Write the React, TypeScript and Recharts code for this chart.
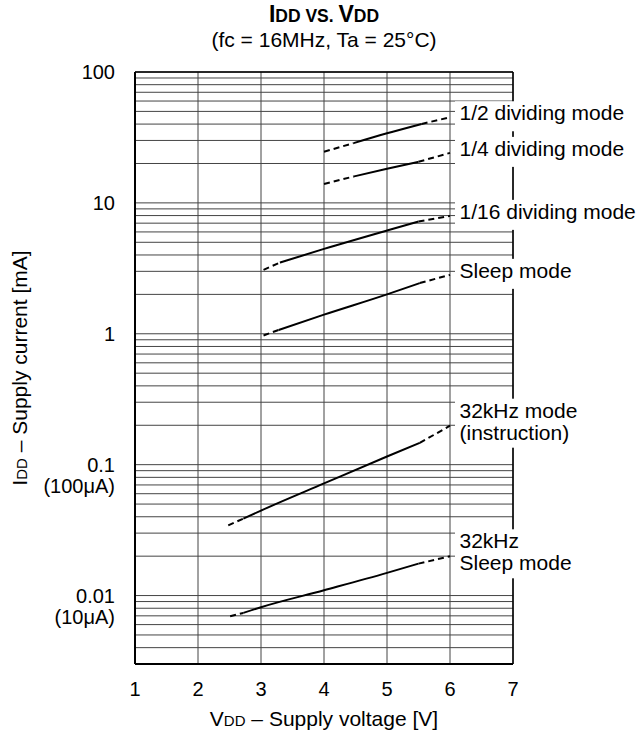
import React from 'react';
import {
  LineChart,
  Line,
  XAxis,
  YAxis,
  CartesianGrid,
  ReferenceDot,
  ReferenceLine,
} from 'recharts';

const FONT = '"Liberation Sans", Arial, Helvetica, sans-serif';

// ---- axes ----
const xTicks = [1, 2, 3, 4, 5, 6, 7];
const yDomain = [0.003, 100];
const yDecades = [0.001, 0.01, 0.1, 1, 10];
const yMultipliers = [1, 2, 3, 4, 5, 6, 7, 8, 9];
const yLabelValues = [0.01, 0.1, 1, 10, 100];
const yLabelTexts = [['0.01', '(10μA)'], ['0.1', '(100μA)'], ['1'], ['10'], ['100']];

// ---- curves: VDD [V] and IDD [mA] ----
const halfV = [4.0, 4.47, 5.0, 5.55, 6.0];
const halfI = [24.6, 28.6, 34.0, 40.1, 45.1];

const quarterV = [4.0, 4.47, 5.0, 5.5, 6.0];
const quarterI = [13.96, 15.9, 18.2, 20.6, 24.1];

const sixteenthV = [3.04, 3.3, 4.0, 5.0, 5.5, 6.0];
const sixteenthI = [3.08, 3.5, 4.45, 6.15, 7.2, 7.96];

const sleepV = [3.04, 3.28, 4.0, 5.0, 5.52, 6.0];
const sleepI = [0.97, 1.07, 1.4, 2.0, 2.44, 2.82];

const k32V = [2.48, 2.72, 3.0, 4.0, 5.0, 5.52, 6.0];
const k32I = [0.0344, 0.0387, 0.0446, 0.0719, 0.1155, 0.1466, 0.1985];

const k32SleepV = [2.51, 2.72, 3.0, 4.0, 5.0, 5.5, 6.0];
const k32SleepI = [0.00695, 0.00737, 0.00815, 0.01098, 0.0149, 0.01754, 0.01995];

const curveLabels = [
  ['1/2 dividing mode'],
  ['1/4 dividing mode'],
  ['1/16 dividing mode'],
  ['Sleep mode'],
  ['32kHz mode', '(instruction)'],
  ['32kHz', 'Sleep mode'],
];

const curveVs = [halfV, quarterV, sixteenthV, sleepV, k32V, k32SleepV];
const curveIs = [halfI, quarterI, sixteenthI, sleepI, k32I, k32SleepI];

// build tick list (decade grid with minor lines)
const yTicks: number[] = [];
yDecades.forEach((d) => {
  yMultipliers.forEach((m) => {
    const v = parseFloat((m * d).toPrecision(6));
    if (v >= yDomain[0] && v <= yDomain[1]) yTicks.push(v);
  });
});
yTicks.push(100);

type Pt = { v: number; i: number };
const curves = curveVs.map((vs, k) => {
  const pts: Pt[] = vs.map((v, j) => ({ v, i: curveIs[k][j] }));
  const n = pts.length;
  return {
    start: pts.slice(0, 2),
    solid: pts.slice(1, n - 1),
    end: pts.slice(n - 2),
    last: pts[n - 1],
    label: curveLabels[k],
  };
});

const XTick = (props: any) => {
  const { x, y, payload } = props;
  return (
    <text x={x} y={y + 32} textAnchor="middle" fontFamily={FONT} fontSize={20} fill="#000">
      {payload.value}
    </text>
  );
};

const YTick = (props: any) => {
  const { x, y, payload } = props;
  const v = payload.value;
  const idx = yLabelValues.findIndex((d) => Math.abs(d - v) / d < 1e-6);
  if (idx < 0) return <g />;
  const lines = yLabelTexts[idx];
  return (
    <text x={x - 20} y={y + 7} textAnchor="end" fontFamily={FONT} fontSize={20} fill="#000">
      {lines.map((l, i) => (
        <tspan key={i} x={x - 20} dy={i === 0 ? 0 : 21}>
          {l}
        </tspan>
      ))}
    </text>
  );
};

const YLabel = (props: any) => {
  const vb = props.viewBox || { x: 0, y: 72, width: 135, height: 592 };
  const cx = vb.x + 27;
  const cy = vb.y + vb.height / 2;
  return (
    <text
      x={cx}
      y={cy}
      transform={`rotate(-90 ${cx} ${cy})`}
      textAnchor="middle"
      fontFamily={FONT}
      fontSize={21}
      fill="#000"
    >
      <tspan>I</tspan>
      <tspan fontSize={15}>DD</tspan>
      <tspan>{' – Supply current [mA]'}</tspan>
    </text>
  );
};

const XLabel = (props: any) => {
  const vb = props.viewBox || { x: 135, y: 664, width: 378, height: 80 };
  const cx = vb.x + vb.width / 2;
  const y = vb.y + 62;
  return (
    <text x={cx} y={y} textAnchor="middle" fontFamily={FONT} fontSize={21} fill="#000">
      <tspan>V</tspan>
      <tspan fontSize={15}>DD</tspan>
      <tspan>{' – Supply voltage [V]'}</tspan>
    </text>
  );
};

const TitleShape = (p: any) => {
  const { cx, cy } = p;
  return (
    <g>
      <text x={cx} y={cy - 50} textAnchor="middle" fontFamily={FONT} fontWeight="bold" fill="#000">
        <tspan fontSize={23}>I</tspan>
        <tspan fontSize={17.5}>{'DD VS. '}</tspan>
        <tspan fontSize={23}>V</tspan>
        <tspan fontSize={17.5}>DD</tspan>
      </text>
      <text x={cx} y={cy - 25} textAnchor="middle" fontFamily={FONT} fontSize={21} fill="#000">
        (fc = 16MHz, Ta = 25°C)
      </text>
    </g>
  );
};

const makeLabelShape = (lines: string[]) => (p: any) => {
  const { cx, cy } = p;
  const two = lines.length > 1;
  const top = two ? cy - 27 : cy - 16;
  const bottom = two ? cy + 22 : cy + 14;
  const x0 = cx + 5;
  return (
    <g>
      <rect x={x0} y={top} width={220} height={bottom - top} fill="#fff" />
      <text fontFamily={FONT} fontSize={21} fill="#000">
        {two ? (
          <>
            <tspan x={x0 + 4.5} y={cy - 8}>
              {lines[0]}
            </tspan>
            <tspan x={x0 + 4.5} y={cy + 14}>
              {lines[1]}
            </tspan>
          </>
        ) : (
          <tspan x={x0 + 4.5} y={cy + 3}>
            {lines[0]}
          </tspan>
        )}
      </text>
    </g>
  );
};

export default function App() {
  return (
    <div style={{ position: 'absolute', left: 0, top: 0, background: '#fff' }}>
      <LineChart width={641} height={744} margin={{ top: 72, right: 128, bottom: 0, left: 0 }}>
        <CartesianGrid stroke="#444" strokeWidth={1} />
        <XAxis
          type="number"
          dataKey="v"
          domain={[1, 7]}
          ticks={xTicks}
          interval={0}
          allowDataOverflow
          tickLine={false}
          tickSize={0}
          tickMargin={0}
          height={80}
          axisLine={{ stroke: '#000', strokeWidth: 2 }}
          tick={<XTick />}
          label={<XLabel />}
        />
        <YAxis
          type="number"
          scale="log"
          domain={yDomain}
          ticks={yTicks}
          interval={0}
          allowDataOverflow
          tickLine={false}
          tickSize={0}
          tickMargin={0}
          width={135}
          axisLine={{ stroke: '#000', strokeWidth: 2 }}
          tick={<YTick />}
          label={<YLabel />}
        />
        <ReferenceLine y={100} stroke="#000" strokeWidth={1.5} ifOverflow="visible" />
        <ReferenceLine x={7} stroke="#000" strokeWidth={1.5} ifOverflow="visible" />
        {curves.map((c, k) => (
          <Line
            key={`s${k}`}
            data={c.start}
            dataKey="i"
            type="linear"
            stroke="#000"
            strokeWidth={2}
            strokeDasharray="6 4"
            dot={false}
            activeDot={false}
            isAnimationActive={false}
          />
        ))}
        {curves.map((c, k) => (
          <Line
            key={`m${k}`}
            data={c.solid}
            dataKey="i"
            type="monotone"
            stroke="#000"
            strokeWidth={2}
            dot={false}
            activeDot={false}
            isAnimationActive={false}
          />
        ))}
        {curves.map((c, k) => (
          <Line
            key={`e${k}`}
            data={c.end}
            dataKey="i"
            type="linear"
            stroke="#000"
            strokeWidth={2}
            strokeDasharray="6 4"
            dot={false}
            activeDot={false}
            isAnimationActive={false}
          />
        ))}
        {curves.map((c, k) => (
          <ReferenceDot
            key={`l${k}`}
            x={c.last.v}
            y={c.last.i}
            r={0}
            ifOverflow="visible"
            shape={makeLabelShape(c.label)}
          />
        ))}
        <ReferenceDot x={4} y={100} r={0} ifOverflow="visible" shape={TitleShape} />
      </LineChart>
    </div>
  );
}
